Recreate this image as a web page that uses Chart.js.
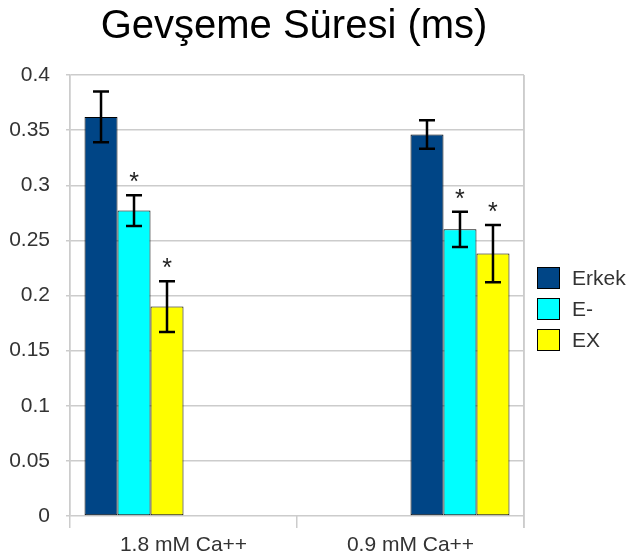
<!DOCTYPE html>
<html>
<head>
<meta charset="utf-8">
<script src="https://cdn.jsdelivr.net/npm/chart.js@4/dist/chart.umd.min.js"></script>
<style>
html,body{margin:0;padding:0;background:#fff;}
#wrap{width:628px;height:559px;}
</style>
</head>
<body>
<div id="wrap"><canvas id="c" width="628" height="559"></canvas></div>
<script>
// ---- data ----
const titleText = 'Gevşeme Süresi (ms)';
const categories = ['1.8 mM Ca++', '0.9 mM Ca++'];
const seriesNames = ['Erkek', 'E-', 'EX'];
const erkek = [0.362, 0.346];
const eMinus = [0.277, 0.260];
const ex = [0.190, 0.238];
const erkekErr = [0.023, 0.013];
const eMinusErr = [0.014, 0.016];
const exErr = [0.023, 0.026];
const erkekSig = [false, false];
const eMinusSig = [true, true];
const exSig = [true, true];
const yTickLabels = ['0', '0.05', '0.1', '0.15', '0.2', '0.25', '0.3', '0.35', '0.4'];

const colors = ['#004586', '#00ffff', '#ffff00'];
const values = [erkek, eMinus, ex];
const errs = [erkekErr, eMinusErr, exErr];
const sigs = [erkekSig, eMinusSig, exSig];

// Each category has its own three slots (first group left half, second group right half)
const datasets = [];
for (let g = 0; g < categories.length; g++) {
  for (let s = 0; s < seriesNames.length; s++) {
    const data = categories.map((_, i) => i === g ? values[s][i] : null);
    datasets.push({
      label: seriesNames[s],
      data: data,
      errors: categories.map((_, i) => i === g ? errs[s][i] : null),
      sig: categories.map((_, i) => i === g ? sigs[s][i] : false),
      backgroundColor: colors[s],
      borderColor: '#000',
      borderWidth: 1,
      borderSkipped: false,
      categoryPercentage: 0.872,
      barPercentage: 1.0,
      inLegend: g === 0
    });
  }
}

const GRID = '#cccccc';
const TEXT = '#333333';
const FONT = '"Liberation Sans", Arial, sans-serif';

const extrasPlugin = {
  id: 'extras',
  afterDatasetsDraw(chart) {
    const ctx = chart.ctx;
    const y = chart.scales.y;
    ctx.save();
    chart.data.datasets.forEach((ds, di) => {
      const meta = chart.getDatasetMeta(di);
      meta.data.forEach((el, i) => {
        const v = ds.data[i];
        const e = ds.errors[i];
        if (v === null || v === undefined) return;
        const x = el.x;
        const yt = y.getPixelForValue(v + e);
        const yb = y.getPixelForValue(v - e);
        ctx.strokeStyle = '#000';
        ctx.lineWidth = 2.5;
        ctx.beginPath();
        ctx.moveTo(x, yt); ctx.lineTo(x, yb);
        ctx.moveTo(x - 8, yt); ctx.lineTo(x + 8, yt);
        ctx.moveTo(x - 8, yb); ctx.lineTo(x + 8, yb);
        ctx.stroke();
        if (ds.sig[i]) {
          ctx.fillStyle = '#222';
          ctx.font = '25px ' + FONT;
          ctx.textAlign = 'center';
          ctx.textBaseline = 'alphabetic';
          ctx.fillText('*', x, yt - 5);
        }
      });
    });
    ctx.restore();
  },
  afterDraw(chart) {
    const ctx = chart.ctx;
    const area = chart.chartArea;
    ctx.save();
    // right border of plot
    ctx.strokeStyle = GRID;
    ctx.lineWidth = 1.5;
    ctx.beginPath();
    ctx.moveTo(area.right, area.top);
    ctx.lineTo(area.right, area.bottom + 12);
    ctx.stroke();
    // title
    ctx.fillStyle = '#000';
    ctx.font = '40px ' + FONT;
    ctx.textAlign = 'center';
    ctx.textBaseline = 'alphabetic';
    ctx.fillText(titleText, 294, 38);
    // legend
    const lx = 537, ly0 = 267, gap = 31;
    ctx.font = '21px ' + FONT;
    ctx.textAlign = 'left';
    ctx.textBaseline = 'middle';
    chart.data.datasets.filter(d => d.inLegend).forEach((d, k) => {
      const yy = ly0 + k * gap;
      ctx.fillStyle = d.backgroundColor;
      ctx.fillRect(lx, yy, 23, 22);
      ctx.strokeStyle = '#000';
      ctx.lineWidth = 1;
      ctx.strokeRect(lx + 0.5, yy + 0.5, 22, 21);
      ctx.fillStyle = TEXT;
      ctx.fillText(d.label, 572, yy + 12);
    });
    ctx.restore();
  }
};

new Chart(document.getElementById('c'), {
  type: 'bar',
  data: { labels: categories, datasets: datasets },
  options: {
    responsive: false,
    animation: false,
    layout: { padding: { top: 75, right: 104, left: 0, bottom: 0 } },
    plugins: {
      legend: { display: false },
      title: { display: false },
      tooltip: { enabled: false }
    },
    scales: {
      x: {
        grid: {
          offset: true,
          color: (c) => (c.index === 1 ? 'rgba(0,0,0,0)' : GRID),
          tickColor: GRID,
          lineWidth: 1.5,
          tickLength: 12
        },
        border: { display: false },
        ticks: { color: TEXT, font: { family: FONT, size: 21 }, padding: 5 },
        afterFit(s) { s.height = 43; }
      },
      y: {
        min: 0, max: 0.4,
        ticks: {
          stepSize: 0.05,
          color: TEXT,
          font: { family: FONT, size: 21 },
          padding: 16,
          callback: (v, i) => yTickLabels[i]
        },
        grid: { color: GRID, lineWidth: 1.5, tickLength: 4 },
        border: { display: true, color: GRID, width: 1.5 },
        afterFit(s) { s.width = 70; }
      }
    }
  },
  plugins: [extrasPlugin]
});
</script>
</body>
</html>
